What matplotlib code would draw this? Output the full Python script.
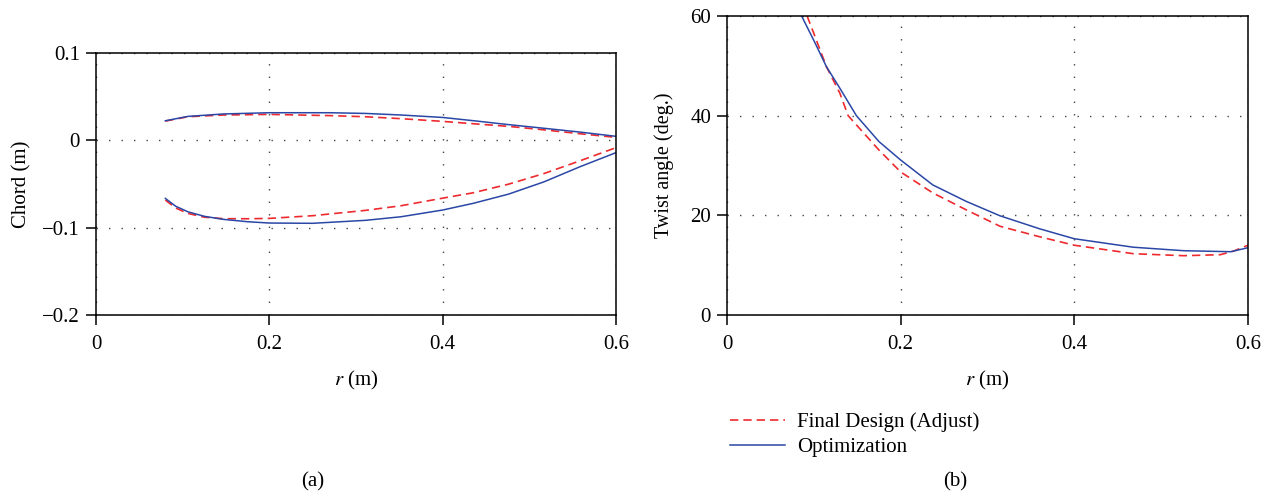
import matplotlib
matplotlib.use("Agg")
import matplotlib.pyplot as plt

plt.rcParams['font.family'] = ['Liberation Serif', 'DejaVu Serif']
plt.rcParams['mathtext.fontset'] = 'stix'
plt.rcParams['font.size'] = 15

# chord distribution (upper / lower edge)
r_up_opt = [0.080, 0.106, 0.147, 0.200, 0.270, 0.311, 0.352, 0.400, 0.438, 0.476, 0.517, 0.558, 0.600]
c_up_opt = [0.0224, 0.0274, 0.0302, 0.0316, 0.0316, 0.0308, 0.0290, 0.0262, 0.0222, 0.0180, 0.0138, 0.0095, 0.0046]
r_up_fin = [0.080, 0.106, 0.147, 0.200, 0.270, 0.311, 0.352, 0.400, 0.438, 0.476, 0.517, 0.558, 0.600]
c_up_fin = [0.0220, 0.0270, 0.0290, 0.0297, 0.0283, 0.0270, 0.0248, 0.0217, 0.0188, 0.0160, 0.0120, 0.0076, 0.0034]

r_lo_opt = [0.080, 0.092, 0.106, 0.125, 0.147, 0.175, 0.200, 0.250, 0.311, 0.352, 0.400, 0.435, 0.476, 0.517, 0.558, 0.600]
c_lo_opt = [-0.0665, -0.0755, -0.0818, -0.0870, -0.0905, -0.0932, -0.0947, -0.0950, -0.0916, -0.0875, -0.0798, -0.0722, -0.0616, -0.0475, -0.0304, -0.0141]
r_lo_fin = [0.080, 0.092, 0.106, 0.125, 0.147, 0.175, 0.200, 0.250, 0.311, 0.352, 0.400, 0.435, 0.476, 0.517, 0.558, 0.600]
c_lo_fin = [-0.0684, -0.0775, -0.0837, -0.0880, -0.0897, -0.0898, -0.0894, -0.0863, -0.0802, -0.0749, -0.0662, -0.0601, -0.0502, -0.0380, -0.0236, -0.0084]

# twist angle distribution
r_tw_opt = [0.0859, 0.100, 0.1146, 0.130, 0.149, 0.175, 0.200, 0.237, 0.2755, 0.3145, 0.360, 0.400, 0.468, 0.526, 0.580, 0.600]
t_tw_opt = [60.0, 55.1, 49.8, 45.5, 40.0, 34.8, 31.1, 26.1, 22.8, 19.9, 17.3, 15.3, 13.6, 12.9, 12.7, 13.5]
r_tw_fin = [0.0923, 0.100, 0.1146, 0.130, 0.1395, 0.175, 0.200, 0.237, 0.2755, 0.3145, 0.360, 0.400, 0.468, 0.526, 0.568, 0.583, 0.600]
t_tw_fin = [60.0, 56.5, 49.8, 44.5, 40.0, 33.1, 28.7, 24.5, 21.1, 17.8, 15.7, 14.0, 12.3, 11.9, 12.1, 12.8, 14.0]

x_ticks = [0, 0.2, 0.4, 0.6]
x_labels = ['0', '0.2', '0.4', '0.6']
chord_ticks = [0.1, 0, -0.1, -0.2]
chord_labels = ['0.1', '0', '\u22120.1', '\u22120.2']
twist_ticks = [0, 20, 40, 60]
twist_labels = ['0', '20', '40', '60']

red = '#ee2a2f'
blue = '#2a47a6'
W, H = 1269, 496

fig = plt.figure(figsize=(W / 100, H / 100), dpi=100)
ax1 = fig.add_axes([96 / W, 1 - 315 / H, (616 - 96) / W, (315 - 53) / H])
ax2 = fig.add_axes([727 / W, 1 - 315 / H, (1248 - 727) / W, (315 - 16) / H])


def style(ax):
    for s in ax.spines.values():
        s.set_linewidth(1.1)
    ax.tick_params(direction='out', length=7.5, width=1.1, labelsize=15)
    ax.tick_params(axis='x', pad=7)
    ax.tick_params(axis='y', pad=4)
    ax.grid(True, color='#444444', linestyle=(0, (1, 8)), linewidth=1.0)
    ax.set_axisbelow(True)


ax1.plot(r_up_fin, c_up_fin, color=red, ls=(0, (5, 3)), lw=1.2)
ax1.plot(r_up_opt, c_up_opt, color=blue, lw=1.1)
ax1.plot(r_lo_fin, c_lo_fin, color=red, ls=(0, (5, 3)), lw=1.2)
ax1.plot(r_lo_opt, c_lo_opt, color=blue, lw=1.1)
ax1.set_xlim(0, 0.6)
ax1.set_ylim(-0.2, 0.1)
ax1.set_xticks(x_ticks, x_labels)
ax1.set_yticks(chord_ticks, chord_labels)
ax1.set_xlabel('$r$ (m)', fontsize=15, va='center')
ax1.set_ylabel('Chord (m)', fontsize=15, va='center')
ax1.xaxis.set_label_coords(0.5, (315 - 380) / 262)
ax1.yaxis.set_label_coords((22 - 96) / 520, 0.5)
style(ax1)

l1, = ax2.plot(r_tw_fin, t_tw_fin, color=red, ls=(0, (5, 3)), lw=1.2, label='Final Design (Adjust)')
l2, = ax2.plot(r_tw_opt, t_tw_opt, color=blue, lw=1.1, label='Optimization')
ax2.set_xlim(0, 0.6)
ax2.set_ylim(0, 60)
ax2.set_xticks(x_ticks, x_labels)
ax2.set_yticks(twist_ticks, twist_labels)
ax2.set_xlabel('$r$ (m)', fontsize=15, va='center')
ax2.set_ylabel('Twist angle (deg.)', fontsize=14.5, va='center')
ax2.xaxis.set_label_coords(0.5, (315 - 380) / 299)
ax2.yaxis.set_label_coords((664 - 727) / 521, 0.5)
style(ax2)

fig.legend(handles=[l1, l2], loc='upper left', bbox_to_anchor=(722 / W, 1 - 404 / H),
           frameon=False, fontsize=15, handlelength=2.6, handletextpad=0.6,
           labelspacing=0.25, borderaxespad=0)

fig.text(313 / W, 1 - 482 / H, '(a)', ha='center', va='center', fontsize=15)
fig.text(955 / W, 1 - 482 / H, '(b)', ha='center', va='center', fontsize=15)

fig.savefig('out.png', dpi=100)
